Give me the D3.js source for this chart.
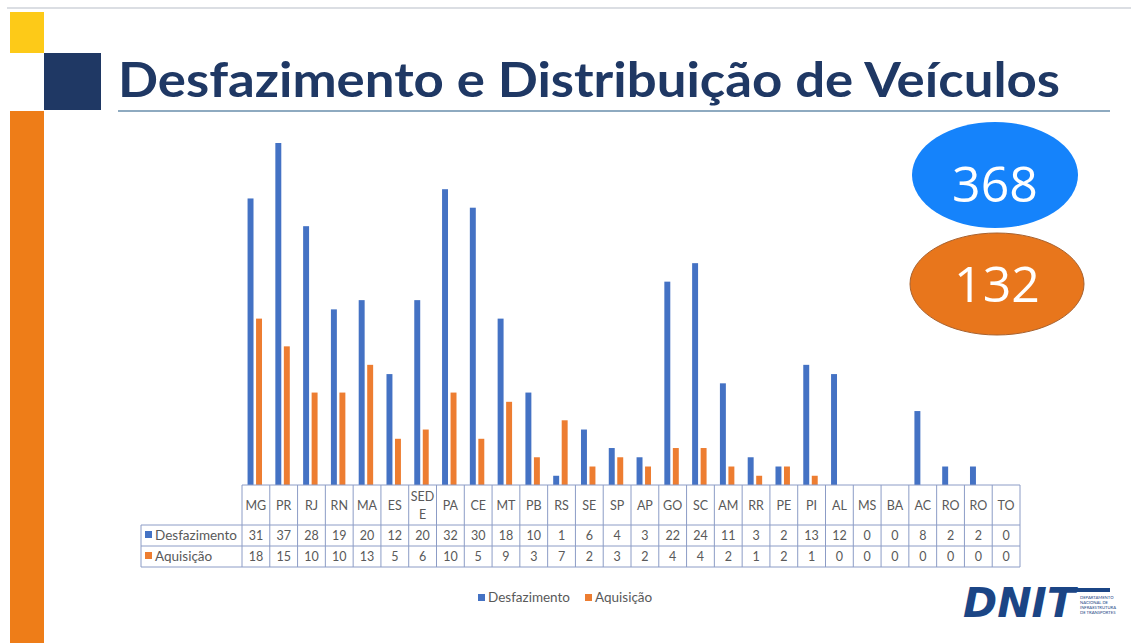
<!DOCTYPE html>
<html>
<head>
<meta charset="utf-8">
<script src="https://cdn.jsdelivr.net/npm/d3@7"></script>
<style>
  body { margin: 0; background: #fff; }
  svg { display: block; font-family: Lato, "Open Sans", sans-serif; }
</style>
</head>
<body>
<script>
// values
const states = ['MG','PR','RJ','RN','MA','ES','SEDE','PA','CE','MT','PB','RS','SE','SP','AP','GO','SC','AM','RR','PE','PI','AL','MS','BA','AC','RO','RO','TO'];
const desfazimento = [31,37,28,19,20,12,20,32,30,18,10,1,6,4,3,22,24,11,3,2,13,12,0,0,8,2,2,0];
const aquisicao = [18,15,10,10,13,5,6,10,5,9,3,7,2,3,2,4,4,2,1,2,1,0,0,0,0,0,0,0];
const seriesNames = ['Desfazimento', 'Aquisição'];
const totals = [368, 132];

const w = 1131, h = 643;
const colors = ['#4472c4', '#ed7d31'];
const textGray = '#595959';
const gridColor = '#8c9cc6';

const svg = d3.select('body')
  .append('svg')
  .attr('width', w)
  .attr('height', h);

// slide decoration
svg.append('line')
  .attr('x1', 7).attr('x2', w).attr('y1', 8).attr('y2', 8)
  .attr('stroke', '#cfd3da').attr('stroke-width', 1.5);
svg.append('rect').attr('x', 10).attr('y', 12).attr('width', 34).attr('height', 41).attr('fill', '#fdca18');
svg.append('rect').attr('x', 44).attr('y', 53).attr('width', 57).attr('height', 57).attr('fill', '#1f3864');
svg.append('rect').attr('x', 10).attr('y', 111).attr('width', 34).attr('height', h - 111).attr('fill', '#ee7d18');

svg.append('text')
  .attr('x', 118)
  .attr('y', 97)
  .attr('textLength', 942)
  .attr('lengthAdjust', 'spacingAndGlyphs')
  .attr('font-size', 48)
  .attr('font-weight', 700)
  .attr('fill', '#1f3864')
  .text('Desfazimento e Distribuição de Veículos');

svg.append('line')
  .attr('x1', 118).attr('x2', 1110).attr('y1', 111).attr('y2', 111)
  .attr('stroke', '#8eaac0').attr('stroke-width', 2);

// total bubbles
const bubbles = [
  {cx: 995, cy: 175, rx: 83, ry: 53, fill: '#1583fb', stroke: 'none', ty: 202},
  {cx: 997, cy: 284, rx: 87, ry: 51, fill: '#e8761c', stroke: '#a8622f', ty: 302}
];
bubbles.forEach((b, i) => {
  svg.append('ellipse')
    .attr('cx', b.cx).attr('cy', b.cy).attr('rx', b.rx).attr('ry', b.ry)
    .attr('fill', b.fill).attr('stroke', b.stroke);
  svg.append('text')
    .attr('x', b.cx).attr('y', b.ty)
    .attr('text-anchor', 'middle')
    .attr('font-family', '"Open Sans", sans-serif')
    .attr('font-size', 50)
    .attr('fill', '#fff')
    .text(totals[i]);
});

// chart
const left = 242, right = 1020, base = 485;

const xScale = d3.scaleBand()
  .domain(d3.range(states.length))
  .range([left, right]);

const bw = xScale.bandwidth();

const xSub = d3.scaleBand()
  .domain([0, 1])
  .range([bw * 0.2, bw * 0.72])
  .paddingInner(0.3);

const yScale = d3.scaleLinear()
  .domain([0, 37])
  .range([base, 143]);

const series = [desfazimento, aquisicao];

series.forEach((vals, s) => {
  svg.append('g')
    .selectAll('rect')
    .data(vals)
    .join('rect')
      .attr('x', (d, i) => xScale(i) + xSub(s))
      .attr('y', d => yScale(d))
      .attr('width', xSub.bandwidth())
      .attr('height', d => base - yScale(d))
      .attr('fill', colors[s]);
});

// data table under the bars
const rowY = [485, 525, 546, 567];
const tableLeft = 141;
const grid = svg.append('g')
  .attr('stroke', gridColor)
  .attr('stroke-width', 1)
  .attr('fill', 'none');

grid.append('line').attr('x1', left).attr('x2', right).attr('y1', rowY[0]).attr('y2', rowY[0]);
rowY.slice(1).forEach(y => {
  grid.append('line').attr('x1', tableLeft).attr('x2', right).attr('y1', y).attr('y2', y);
});
grid.append('line').attr('x1', tableLeft).attr('x2', tableLeft).attr('y1', rowY[1]).attr('y2', rowY[3]);
d3.range(states.length + 1).forEach(i => {
  const x = left + i * bw;
  grid.append('line').attr('x1', x).attr('x2', x).attr('y1', rowY[0]).attr('y2', rowY[3]);
});

const cellText = svg.append('g')
  .attr('font-size', 12.5)
  .attr('fill', textGray)
  .attr('text-anchor', 'middle');

states.forEach((st, i) => {
  const cx = xScale(i) + bw / 2;
  const lines = st.length > 3 ? [st.slice(0, 3), st.slice(3)] : [st];
  lines.forEach((ln, k) => {
    cellText.append('text')
      .attr('x', cx)
      .attr('y', lines.length === 1 ? 510 : 501 + k * 18)
      .text(ln);
  });
  series.forEach((vals, s) => {
    cellText.append('text')
      .attr('x', cx)
      .attr('y', rowY[s + 1] + 15)
      .text(vals[i]);
  });
});

seriesNames.forEach((name, s) => {
  svg.append('rect')
    .attr('x', 145).attr('y', rowY[s + 1] + 6)
    .attr('width', 7).attr('height', 7)
    .attr('fill', colors[s]);
  svg.append('text')
    .attr('x', 155).attr('y', rowY[s + 1] + 15)
    .attr('font-size', 13.5)
    .attr('fill', textGray)
    .text(name);
});

// legend
const legend = svg.append('g').attr('transform', 'translate(478, 0)');
const legendX = [0, 107];
seriesNames.forEach((name, s) => {
  legend.append('rect')
    .attr('x', legendX[s]).attr('y', 594)
    .attr('width', 7).attr('height', 7)
    .attr('fill', colors[s]);
  legend.append('text')
    .attr('x', legendX[s] + 10).attr('y', 602)
    .attr('font-size', 13.5)
    .attr('fill', textGray)
    .text(name);
});

// DNIT logo
const logo = svg.append('g');
logo.append('text')
  .attr('x', 963).attr('y', 617)
  .attr('textLength', 112)
  .attr('lengthAdjust', 'spacingAndGlyphs')
  .attr('font-family', '"DejaVu Sans", sans-serif')
  .attr('font-size', 40)
  .attr('font-weight', 900)
  .attr('font-style', 'italic')
  .attr('fill', '#1b4585')
  .text('DNIT');
logo.append('rect')
  .attr('x', 1066).attr('y', 588).attr('width', 44).attr('height', 4)
  .attr('fill', '#1b4585');
['DEPARTAMENTO', 'NACIONAL DE', 'INFRAESTRUTURA', 'DE TRANSPORTES'].forEach((t, i) => {
  logo.append('text')
    .attr('x', 1080).attr('y', 599 + i * 5)
    .attr('font-size', 4.2)
    .attr('fill', '#1b4585')
    .text(t);
});
</script>
</body>
</html>
